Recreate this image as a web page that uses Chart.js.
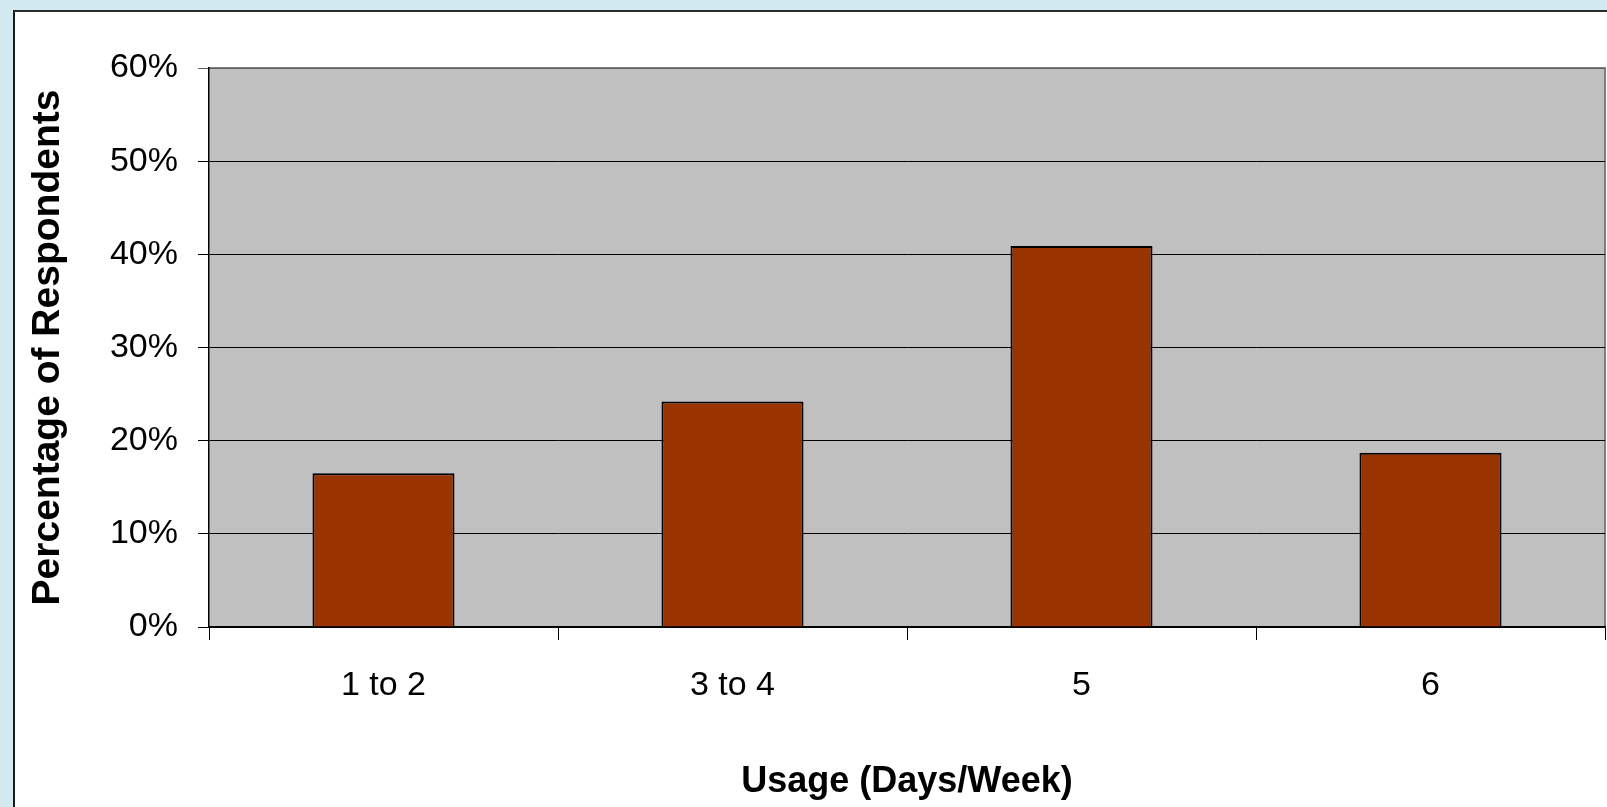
<!DOCTYPE html>
<html>
<head>
<meta charset="utf-8">
<script src="https://cdn.jsdelivr.net/npm/chart.js@4/dist/chart.umd.min.js"></script>
<style>
  html, body { margin: 0; padding: 0; width: 1607px; height: 807px; overflow: hidden; background: #d2e9ef; }
  #panel { position: absolute; left: 13px; top: 10px; right: 0; bottom: 0; background: #ffffff;
           border-left: 2px solid #1a1a1a; border-top: 2px solid #2a2a2a; }
  #chart { position: absolute; left: 0; top: 0; }
</style>
</head>
<body>
<div id="panel"></div>
<canvas id="chart" width="1607" height="807"></canvas>
<script>
// Survey results: how many days per week respondents use the service
const categories = ['1 to 2', '3 to 4', '5', '6'];
const respondentShare = [16.5, 24.2, 40.9, 18.7];   // percent of respondents
const yTickValues = [0, 10, 20, 30, 40, 50, 60];

const FONT = '"Liberation Sans", Arial, Helvetica, sans-serif';

// Grey plot background with a darker frame, painted under the grid and bars
const plotBackground = {
  id: 'plotBackground',
  beforeDraw(chart) {
    const { ctx, chartArea: a } = chart;
    ctx.save();
    ctx.fillStyle = '#c0c0c0';
    ctx.fillRect(a.left, a.top, a.right - a.left, a.bottom - a.top);
    ctx.strokeStyle = '#808080';
    ctx.lineWidth = 2;
    ctx.beginPath();
    ctx.moveTo(a.left, a.top);
    ctx.lineTo(a.right, a.top);
    ctx.lineTo(a.right, a.bottom);
    ctx.stroke();
    ctx.restore();
  }
};

new Chart(document.getElementById('chart'), {
  type: 'bar',
  data: {
    labels: categories,
    datasets: [{
      data: respondentShare,
      backgroundColor: '#993300',
      borderColor: '#000000',
      borderWidth: 2,
      barPercentage: 0.407,
      categoryPercentage: 1.0
    }]
  },
  options: {
    responsive: false,
    animation: false,
    devicePixelRatio: 1,
    layout: { padding: { top: 68, right: 2, left: 0, bottom: 0 } },
    plugins: { legend: { display: false }, tooltip: { enabled: false } },
    scales: {
      x: {
        offset: true,
        grid: {
          offset: true,
          drawOnChartArea: false,
          drawTicks: true,
          tickLength: 13,
          color: '#000000',
          lineWidth: 1
        },
        border: { display: true, color: '#000000', width: 1.5 },
        ticks: {
          color: '#000000',
          font: { family: FONT, size: 34 },
          padding: 25,
          maxRotation: 0
        },
        title: {
          display: true,
          text: 'Usage (Days/Week)',
          color: '#000000',
          font: { family: FONT, size: 36, weight: 'bold' },
          padding: { top: 0, bottom: 3 }
        },
        afterFit(scale) { scale.height = 180; }
      },
      y: {
        min: 0,
        max: 60,
        afterBuildTicks(scale) { scale.ticks = yTickValues.map(v => ({ value: v })); },
        grid: {
          color: ctx => (ctx.tick && ctx.tick.value === 60 ? '#606060' : '#000000'),
          lineWidth: 1,
          drawTicks: true,
          tickLength: 11
        },
        border: { display: true, color: '#000000', width: 1.5 },
        ticks: {
          color: '#000000',
          font: { family: FONT, size: 34 },
          padding: 20,
          callback: v => v + '%'
        },
        title: {
          display: true,
          text: 'Percentage of Respondents',
          color: '#000000',
          font: { family: FONT, size: 39, weight: 'bold' },
          padding: { top: 25, bottom: 0 }
        },
        afterFit(scale) { scale.width = 209; }
      }
    }
  },
  plugins: [plotBackground]
});
</script>
</body>
</html>
